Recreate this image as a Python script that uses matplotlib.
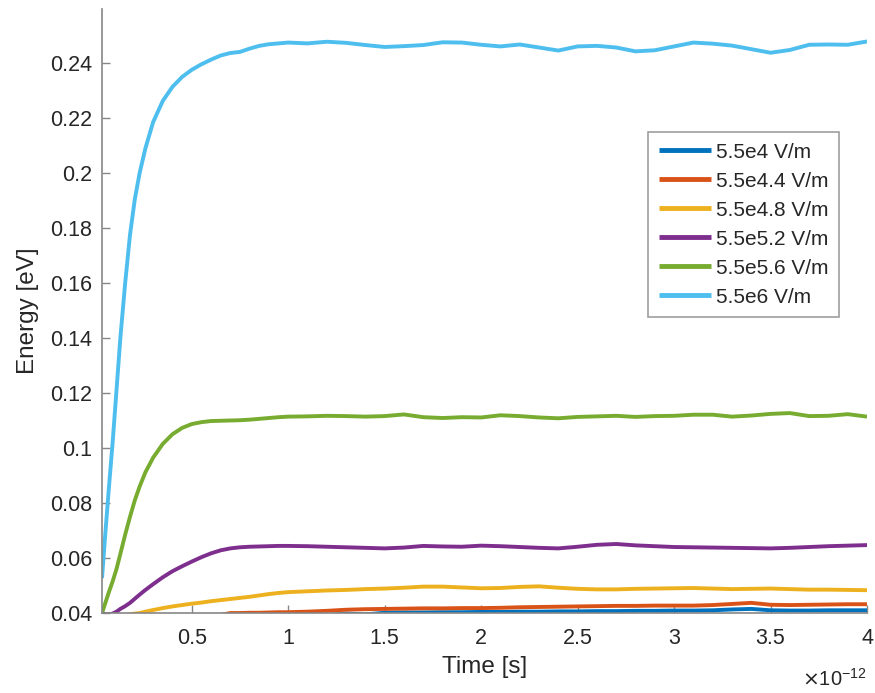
import matplotlib
matplotlib.use("Agg")
import matplotlib.pyplot as plt
from matplotlib.ticker import FuncFormatter, MultipleLocator

plt.rcParams['font.family'] = ['Liberation Sans', 'DejaVu Sans']

# Time axis in units of 1e-12 s
time_ps = [0.035, 0.05, 0.07, 0.09, 0.11, 0.13, 0.155, 0.18, 0.205, 0.23,
           0.26, 0.30, 0.35, 0.40, 0.45, 0.50, 0.55, 0.60, 0.65, 0.70,
           0.75, 0.80, 0.85, 0.90, 0.95,
           1.0, 1.1, 1.2, 1.3, 1.4, 1.5, 1.6, 1.7, 1.8, 1.9,
           2.0, 2.1, 2.2, 2.3, 2.4, 2.5, 2.6, 2.7, 2.8, 2.9,
           3.0, 3.1, 3.2, 3.3, 3.4, 3.5, 3.6, 3.7, 3.8, 3.9, 4.0]

# Mean electron energy [eV] for each applied field
energy_e4_0 = [0.0375, 0.0375, 0.0375, 0.0376, 0.0376, 0.0376, 0.0377, 0.0377, 0.0377, 0.0378,
               0.0378, 0.0378, 0.0379, 0.0379, 0.0379, 0.0380, 0.0380, 0.0380, 0.0381, 0.0381,
               0.0381, 0.0382, 0.0382, 0.0383, 0.0384,
               0.0385, 0.0388, 0.0392, 0.0398, 0.0395, 0.0401, 0.0402, 0.0402, 0.0403, 0.0403,
               0.0404, 0.0404, 0.0405, 0.0405, 0.0406, 0.0406, 0.0407, 0.0407, 0.0408, 0.0408,
               0.0409, 0.0409, 0.0410, 0.0413, 0.0415, 0.0410, 0.0409, 0.0409, 0.0410, 0.0410, 0.0410]

energy_e4_4 = [0.0378, 0.0378, 0.0379, 0.0379, 0.0380, 0.0380, 0.0381, 0.0381, 0.0382, 0.0382,
               0.0383, 0.0384, 0.0385, 0.0386, 0.0387, 0.0388, 0.0389, 0.0391, 0.0393, 0.0400,
               0.0400, 0.0401, 0.0401, 0.0402, 0.0403,
               0.0403, 0.0405, 0.0408, 0.0412, 0.0414, 0.0415, 0.0416, 0.0417, 0.0417, 0.0418,
               0.0418, 0.0419, 0.0421, 0.0422, 0.0423, 0.0424, 0.0425, 0.0426, 0.0426, 0.0427,
               0.0427, 0.0427, 0.0429, 0.0433, 0.0437, 0.0430, 0.0429, 0.0430, 0.0431, 0.0432, 0.0432]

energy_e4_8 = [0.0385, 0.0383, 0.0382, 0.0383, 0.0385, 0.0388, 0.0391, 0.0395, 0.0398, 0.0400,
               0.0405, 0.0411, 0.0418, 0.0424, 0.0429, 0.0434, 0.0438, 0.0443, 0.0447, 0.0451,
               0.0455, 0.0459, 0.0464, 0.0469, 0.0473,
               0.0476, 0.0479, 0.0482, 0.0484, 0.0487, 0.0489, 0.0492, 0.0496, 0.0496, 0.0493,
               0.0490, 0.0491, 0.0495, 0.0497, 0.0492, 0.0488, 0.0486, 0.0486, 0.0488, 0.0489,
               0.0490, 0.0491, 0.0489, 0.0487, 0.0488, 0.0489, 0.0487, 0.0485, 0.0485, 0.0484, 0.0483]

energy_e5_2 = [0.0400, 0.0396, 0.0395, 0.0398, 0.0405, 0.0415, 0.0425, 0.0437, 0.0452, 0.0467,
               0.0484, 0.0505, 0.0530, 0.0552, 0.0570, 0.0587, 0.0603, 0.0617, 0.0628, 0.0635,
               0.0639, 0.0641, 0.0642, 0.0643, 0.0644,
               0.0644, 0.0643, 0.0641, 0.0639, 0.0637, 0.0635, 0.0638, 0.0644, 0.0642, 0.0641,
               0.0645, 0.0643, 0.0640, 0.0637, 0.0635, 0.0641, 0.0648, 0.0651, 0.0646, 0.0643,
               0.0640, 0.0639, 0.0638, 0.0637, 0.0636, 0.0635, 0.0637, 0.0640, 0.0643, 0.0645, 0.0647]

energy_e5_6 = [0.0400, 0.0432, 0.0475, 0.0515, 0.0560, 0.0615, 0.0685, 0.0750, 0.0810, 0.0860,
               0.0912, 0.0965, 0.1015, 0.1050, 0.1073, 0.1087, 0.1094, 0.1098, 0.1099, 0.1100,
               0.1101, 0.1103, 0.1106, 0.1109, 0.1112,
               0.1114, 0.1115, 0.1117, 0.1116, 0.1114, 0.1116, 0.1122, 0.1112, 0.1109, 0.1112,
               0.1111, 0.1119, 0.1116, 0.1111, 0.1108, 0.1113, 0.1115, 0.1117, 0.1113, 0.1116,
               0.1117, 0.1121, 0.1121, 0.1114, 0.1118, 0.1124, 0.1127, 0.1116, 0.1117, 0.1123, 0.1114]

energy_e6_0 = [0.0527, 0.0670, 0.0850, 0.1020, 0.1210, 0.1400, 0.1600, 0.1775, 0.1905, 0.2000,
               0.2090, 0.2185, 0.2262, 0.2313, 0.2349, 0.2375, 0.2395, 0.2412, 0.2427, 0.2436,
               0.2440, 0.2452, 0.2462, 0.2468, 0.2471,
               0.2474, 0.2471, 0.2477, 0.2473, 0.2465, 0.2458, 0.2461, 0.2465, 0.2475, 0.2474,
               0.2466, 0.2460, 0.2467, 0.2456, 0.2445, 0.2460, 0.2462, 0.2456, 0.2442, 0.2446,
               0.2460, 0.2474, 0.2470, 0.2463, 0.2450, 0.2437, 0.2447, 0.2466, 0.2467, 0.2466, 0.2478]

series_labels = ['5.5e4 V/m', '5.5e4.4 V/m', '5.5e4.8 V/m',
                 '5.5e5.2 V/m', '5.5e5.6 V/m', '5.5e6 V/m']
series_values = [energy_e4_0, energy_e4_4, energy_e4_8,
                 energy_e5_2, energy_e5_6, energy_e6_0]
series_colors = ['#0072BD', '#D95319', '#EDB120', '#7E2F8E', '#77AC30', '#4DBEEE']

axis_gray = '#868686'
text_gray = '#262626'

fig = plt.figure(figsize=(8.75, 6.93), dpi=100)
ax = fig.add_axes([0.1166, 0.1154, 0.9909 - 0.1166, 0.987 - 0.1154])

for vals, lab, col in zip(series_values, series_labels, series_colors):
    ax.plot(time_ps, vals, color=col, lw=2.8, label=lab, solid_capstyle='butt')

ax.set_xlim(0.035, 4.0)
ax.set_ylim(0.04, 0.2596)
ax.xaxis.set_major_locator(MultipleLocator(0.5))
ax.yaxis.set_major_locator(MultipleLocator(0.02))
fmt = FuncFormatter(lambda v, p: '%g' % round(v, 6))
ax.xaxis.set_major_formatter(fmt)
ax.yaxis.set_major_formatter(fmt)

for side in ('top', 'right'):
    ax.spines[side].set_visible(False)
for side in ('left', 'bottom'):
    ax.spines[side].set_color(axis_gray)
    ax.spines[side].set_linewidth(1.2)

ax.tick_params(axis='both', direction='in', length=6, width=1.0,
               color=axis_gray, labelcolor=text_gray, labelsize=15.5)
ax.tick_params(axis='x', pad=11)
ax.tick_params(axis='y', pad=7)

ax.set_xlabel('Time [s]', fontsize=17.5, color=text_gray, labelpad=5)
ax.set_ylabel('Energy [eV]', fontsize=17.5, color=text_gray, labelpad=8)

ax.text(1.0, -0.121, r'$\times\mathregular{10^{-12}}$', transform=ax.transAxes,
        ha='right', va='baseline', fontsize=14.5, color=text_gray)

leg = ax.legend(loc='upper left', bbox_to_anchor=(0.714, 0.796), borderaxespad=0,
                fontsize=15, frameon=True, fancybox=False, handlelength=2.5,
                handletextpad=0.25, labelspacing=0.48, borderpad=0.5)
leg.get_frame().set_edgecolor(axis_gray)
leg.get_frame().set_linewidth(1.2)
for line in leg.get_lines():
    line.set_linewidth(3.5)
for t in leg.get_texts():
    t.set_color(text_gray)

fig.savefig('out.png', dpi=100, facecolor='white')
